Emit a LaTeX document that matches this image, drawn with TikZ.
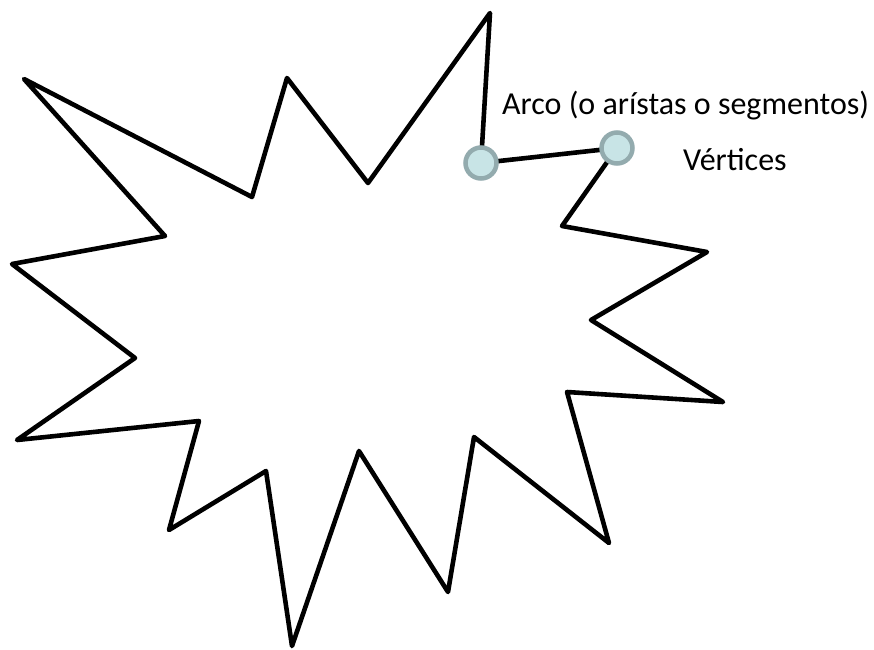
\documentclass[tikz,border=0pt]{standalone}
\usepackage{fontspec}
\setmainfont{Carlito}
\definecolor{vfill}{HTML}{C8E4E6}
\definecolor{vborder}{HTML}{93ABAE}
\tikzset{
  starline/.style={line width=4.6pt, black, line join=round},
  vert/.style={circle, fill=vfill, draw=vborder, line width=4.5pt, minimum size=31pt, inner sep=0pt},
  arc/.style={line width=4.6pt, black},
  lbl/.style={font=\fontsize{32}{37}\selectfont, text=black, inner sep=0pt}
}
\begin{document}
\begin{tikzpicture}[x=1pt, y=-1pt]
\useasboundingbox (0,0) rectangle (874,649);
\coordinate (c1) at (481,163);
\coordinate (c2) at (617,148);
\draw[starline] (c1) -- (490,13) -- (368,183) -- (287,78) -- (252,197) -- (24,79) -- (165,236) -- (12,264) -- (135,358) -- (17,440) -- (199,421) -- (169,530) -- (266,471) -- (292,646) -- (359,451) -- (448,592) -- (474,437) -- (609,543) -- (567,392) -- (723,402) -- (591,320) -- (707,252) -- (562,226) -- (c2);
\draw[arc] (c1) -- (c2);
\node[vert] (v1) at (c1) {};
\node[vert] (v2) at (c2) {};
\node[lbl, anchor=base west] (arco) at (502,114) {Arco (o arístas o segmentos)};
\node[lbl, anchor=base west] (vertices) at (683,170) {Vértices};
\end{tikzpicture}
\end{document}
